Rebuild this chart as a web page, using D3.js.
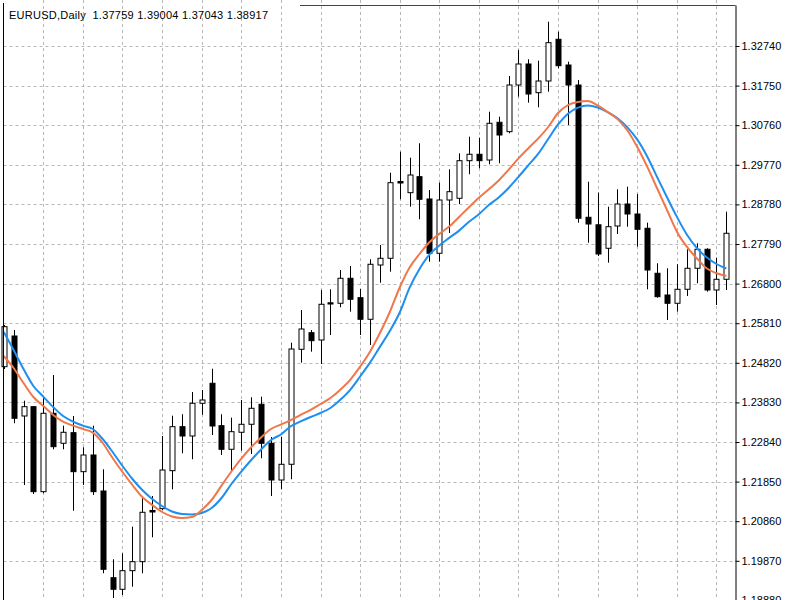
<!DOCTYPE html>
<html>
<head>
<meta charset="utf-8">
<script src="https://cdn.jsdelivr.net/npm/d3@7"></script>
<style>
  body { margin: 0; background: #fff; }
  svg { display: block; font-family: "Liberation Sans", Arial, sans-serif; }
</style>
</head>
<body>
<svg id="chart" width="800" height="600"></svg>
<script>
// EURUSD daily candles
const openP = [1.24723, 1.2549, 1.2349, 1.23723, 1.21598, 1.23558, 1.22808, 1.23073, 1.22098, 1.22515,
  1.21615, 1.19448, 1.19158, 1.19623, 1.19848, 1.21128, 1.21173, 1.22123, 1.23223, 1.2299,
  1.23808, 1.24308, 1.23248, 1.22658, 1.23083, 1.23283, 1.23783, 1.22808, 1.2189, 1.22283,
  1.25158, 1.25573, 1.2539, 1.2632, 1.26308, 1.26933, 1.26448, 1.25908, 1.27265, 1.27433,
  1.29353, 1.29073, 1.29473, 1.28915, 1.27558, 1.2889, 1.28933, 1.29873, 1.30033, 1.2989,
  1.30833, 1.30598, 1.31765, 1.3229, 1.31573, 1.31865, 1.32908, 1.32265, 1.31765, 1.28458,
  1.2827, 1.27683, 1.2824, 1.2879, 1.2854, 1.28183, 1.27058, 1.26515, 1.26308, 1.26658,
  1.27183, 1.27658, 1.2664, 1.26908];
const highP = [1.25765, 1.2564, 1.23873, 1.2374, 1.23933, 1.24515, 1.23248, 1.2349, 1.22708, 1.23248,
  1.22158, 1.19908, 1.20058, 1.20723, 1.21433, 1.2149, 1.2299, 1.23498, 1.23533, 1.2409,
  1.2414, 1.24673, 1.23533, 1.23448, 1.2389, 1.23958, 1.23973, 1.22965, 1.22973, 1.25323,
  1.2614, 1.2564, 1.2664, 1.26658, 1.2714, 1.2724, 1.26665, 1.27408, 1.27765, 1.29573,
  1.30098, 1.29948, 1.30308, 1.2914, 1.29323, 1.29658, 1.30058, 1.30473, 1.30448, 1.31098,
  1.30973, 1.3199, 1.3264, 1.32408, 1.32373, 1.33348, 1.33098, 1.32348, 1.3189, 1.29348,
  1.29073, 1.28723, 1.29158, 1.29223, 1.2904, 1.28323, 1.27308, 1.27183, 1.27283, 1.27658,
  1.27808, 1.27683, 1.27448, 1.28598];
const lowP = [1.24665, 1.23308, 1.21765, 1.2154, 1.21558, 1.22658, 1.22658, 1.2112, 1.21765, 1.21515,
  1.19558, 1.1894, 1.19015, 1.19223, 1.19558, 1.20458, 1.2114, 1.21658, 1.22558, 1.22408,
  1.2352, 1.23015, 1.22515, 1.22098, 1.22623, 1.2254, 1.22433, 1.2149, 1.21658, 1.21908,
  1.24823, 1.25098, 1.2479, 1.25515, 1.26208, 1.26098, 1.25515, 1.25265, 1.26823, 1.27098,
  1.28908, 1.28723, 1.28408, 1.27348, 1.27348, 1.28065, 1.2879, 1.29533, 1.29683, 1.29783,
  1.29808, 1.30558, 1.31473, 1.31323, 1.31208, 1.31598, 1.32183, 1.30765, 1.28323, 1.27823,
  1.2749, 1.27323, 1.2804, 1.28223, 1.27723, 1.26658, 1.26448, 1.2589, 1.26098, 1.2649,
  1.26808, 1.26598, 1.26265, 1.2664];
const closeP = [1.25723, 1.23433, 1.23723, 1.21598, 1.23558, 1.22723, 1.23083, 1.22098, 1.22515, 1.21598,
  1.19658, 1.19158, 1.19623, 1.19848, 1.21083, 1.2109, 1.2214, 1.23223, 1.2299, 1.23808,
  1.2389, 1.2324, 1.22658, 1.23098, 1.23283, 1.23683, 1.22808, 1.2189, 1.22283, 1.25165,
  1.25665, 1.25373, 1.26283, 1.2629, 1.26933, 1.26408, 1.25908, 1.27283, 1.27433, 1.29323,
  1.29315, 1.29515, 1.28908, 1.27558, 1.2889, 1.29098, 1.29873, 1.30033, 1.29873, 1.30808,
  1.30515, 1.31765, 1.3229, 1.3154, 1.31865, 1.32823, 1.32248, 1.31765, 1.28433, 1.2829,
  1.2754, 1.28223, 1.2879, 1.2854, 1.28158, 1.2714, 1.26473, 1.26308, 1.26658, 1.27183,
  1.27658, 1.2664, 1.26908, 1.28058];

// moving averages (orange = fast, blue = slow)
const maFast = [1.2499, 1.2469, 1.24315, 1.23965, 1.2374, 1.23515, 1.23348, 1.23248, 1.23165, 1.23073,
  1.22815, 1.2244, 1.2209, 1.21765, 1.21465, 1.21265, 1.2109, 1.20978, 1.2094, 1.20965,
  1.2114, 1.2139, 1.2175, 1.22103, 1.22423, 1.2271, 1.22953, 1.23165, 1.23275, 1.23385,
  1.2352, 1.23645, 1.2379, 1.2394, 1.24148, 1.24395, 1.24723, 1.25098, 1.25565, 1.2609,
  1.26703, 1.27203, 1.2754, 1.27833, 1.28043, 1.28225, 1.28465, 1.2871, 1.28945, 1.29158,
  1.29378, 1.29645, 1.2993, 1.30183, 1.3043, 1.30715, 1.31065, 1.31265, 1.3134, 1.31365,
  1.31253, 1.3109, 1.30915, 1.30628, 1.30215, 1.29723, 1.29183, 1.2864, 1.28098, 1.27723,
  1.27433, 1.27183, 1.27058, 1.2699];
const maSlow = [1.2559, 1.2514, 1.24665, 1.2424, 1.23973, 1.23715, 1.2349, 1.23348, 1.23248, 1.23165,
  1.22915, 1.2259, 1.2224, 1.21915, 1.2164, 1.21415, 1.2124, 1.21103, 1.2104, 1.21028,
  1.21065, 1.2119, 1.2144, 1.2179, 1.221, 1.2239, 1.22653, 1.2289, 1.23028, 1.23233,
  1.23355, 1.23465, 1.23565, 1.2369, 1.23895, 1.24145, 1.24478, 1.24823, 1.25218, 1.25615,
  1.26078, 1.26698, 1.27165, 1.27523, 1.27753, 1.27943, 1.28125, 1.28345, 1.28535, 1.28765,
  1.28953, 1.2919, 1.2947, 1.2976, 1.30048, 1.30415, 1.30778, 1.31048, 1.31198, 1.31255,
  1.31203, 1.31088, 1.30933, 1.30705, 1.30398, 1.29978, 1.29465, 1.28958, 1.28468, 1.28028,
  1.27695, 1.27458, 1.2729, 1.27178];

const priceTicks = [1.32740, 1.31750, 1.30760, 1.29770, 1.28780, 1.27790, 1.26800, 1.25810,
  1.24820, 1.23830, 1.22840, 1.21850, 1.20860, 1.19870, 1.18880];
const headerText = 'EURUSD,Daily  1.37759 1.39004 1.37043 1.38917';

const width = 800;
const height = 600;
const plotLeft = 3.5;
const plotRight = 735.5;
const plotTop = 5.5;

const candles = openP.map((o, i) => ({
  i: i, open: o, high: highP[i], low: lowP[i], close: closeP[i]
}));

const svg = d3.select('#chart');

const x = d3.scaleLinear()
  .domain([0, candles.length - 1])
  .range([3.7, 726.4]);

const y = d3.scaleLinear()
  .domain([1.1889, 1.3389])
  .range([600, 0]);

// grid
const grid = svg.append('g')
  .attr('stroke', '#b8b8b8')
  .attr('stroke-width', 1)
  .attr('stroke-dasharray', '3,3');

grid.selectAll('.hgrid')
  .data(priceTicks)
  .enter().append('line')
    .attr('x1', plotLeft)
    .attr('x2', plotRight)
    .attr('y1', d => Math.round(y(d)) + 0.5)
    .attr('y2', d => Math.round(y(d)) + 0.5);

grid.selectAll('.vgrid')
  .data(d3.range(4, candles.length, 4))
  .enter().append('line')
    .attr('x1', d => Math.round(x(d)) + 0.5)
    .attr('x2', d => Math.round(x(d)) + 0.5)
    .attr('y1', 0)
    .attr('y2', height);

// candles
const bar = svg.append('g').selectAll('g')
  .data(candles)
  .enter().append('g');

bar.append('line')
  .attr('x1', d => Math.round(x(d.i)) + 0.5)
  .attr('x2', d => Math.round(x(d.i)) + 0.5)
  .attr('y1', d => y(d.high))
  .attr('y2', d => y(d.low))
  .attr('stroke', '#000')
  .attr('stroke-width', 1);

bar.append('rect')
  .attr('x', d => Math.round(x(d.i)) - 2)
  .attr('y', d => y(Math.max(d.open, d.close)))
  .attr('width', 5)
  .attr('height', d => Math.max(1, y(Math.min(d.open, d.close)) - y(Math.max(d.open, d.close))))
  .attr('fill', d => d.close >= d.open ? '#fff' : '#000')
  .attr('stroke', '#000')
  .attr('stroke-width', 1);

// moving averages
const line = d3.line()
  .x((d, i) => x(i))
  .y(d => y(d))
  .curve(d3.curveMonotoneX);

svg.append('path')
  .datum(maSlow)
  .attr('d', line)
  .attr('fill', 'none')
  .attr('stroke', '#1e8ff0')
  .attr('stroke-width', 2);

svg.append('path')
  .datum(maFast)
  .attr('d', line)
  .attr('fill', 'none')
  .attr('stroke', '#f0774a')
  .attr('stroke-width', 2);

// frame (top edge is hidden behind the header on the left)
svg.append('line')
  .attr('x1', plotLeft).attr('x2', plotLeft)
  .attr('y1', 3).attr('y2', height)
  .attr('stroke', '#000');

svg.append('line')
  .attr('x1', 300).attr('x2', plotRight)
  .attr('y1', plotTop).attr('y2', plotTop)
  .attr('stroke', '#444');

// price axis on the right
const axis = svg.append('g')
  .attr('transform', `translate(${plotRight}, 0)`)
  .call(d3.axisRight(y)
    .tickValues(priceTicks)
    .tickFormat(d3.format('.5f'))
    .tickSize(4)
    .tickPadding(2));

axis.select('.domain')
  .attr('d', `M0.5,${plotTop}V${height}`)
  .attr('stroke', '#000');

axis.selectAll('.tick line')
  .attr('stroke', '#000');

axis.selectAll('.tick text')
  .attr('font-size', 11)
  .attr('font-family', '"Liberation Sans", Arial, sans-serif')
  .attr('fill', '#000');

// header
svg.append('text')
  .attr('x', 9)
  .attr('y', 19)
  .attr('font-size', 11)
  .attr('fill', '#000')
  .attr('xml:space', 'preserve')
  .attr('textLength', 259)
  .attr('lengthAdjust', 'spacing')
  .text(headerText);
</script>
</body>
</html>
